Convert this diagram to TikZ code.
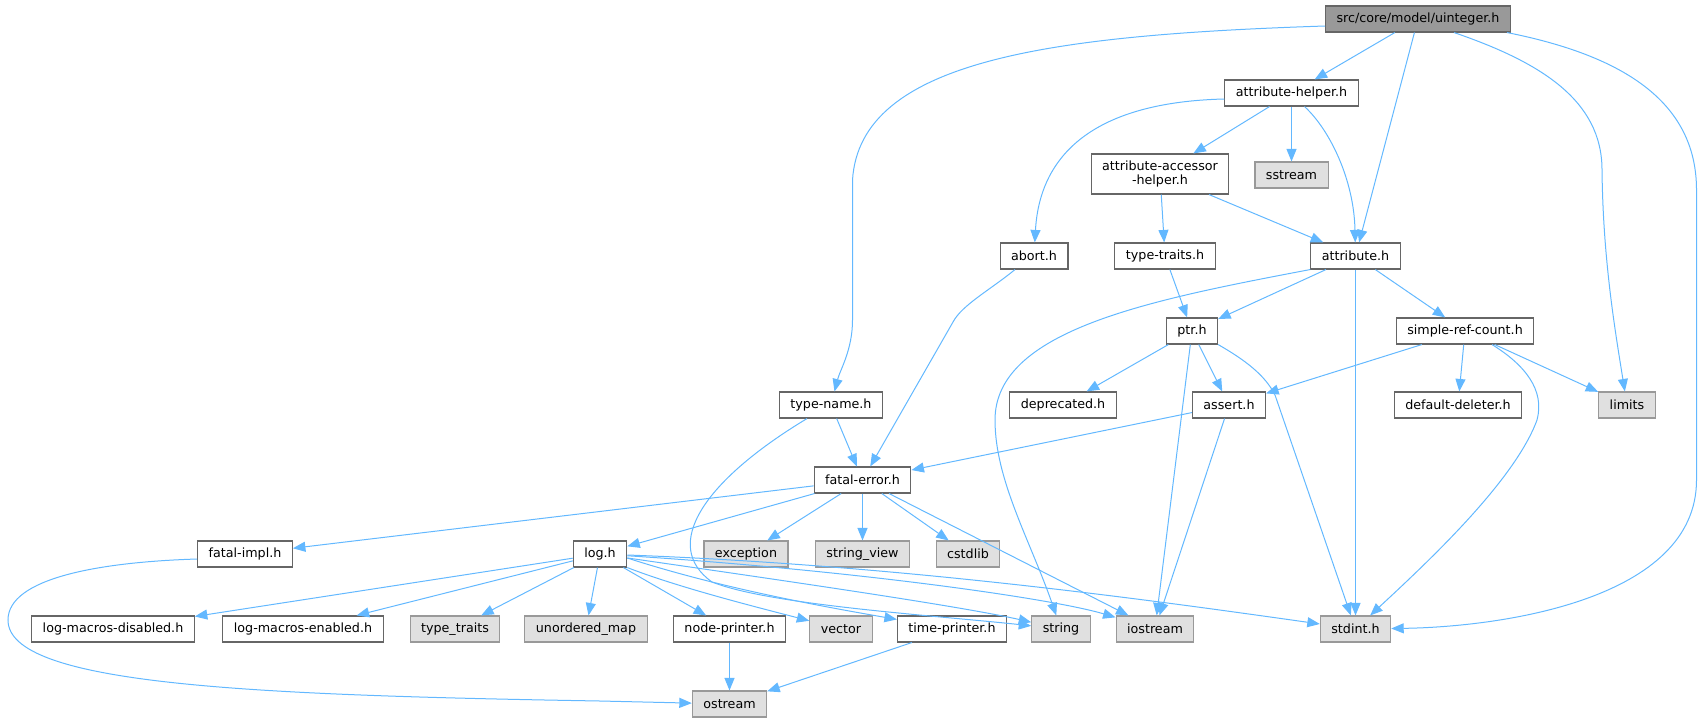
\documentclass[tikz,border=0pt]{standalone}
\usepackage{fontspec}
\setmainfont{DejaVu Sans}
\usetikzlibrary{arrows.meta}
\definecolor{edgeblue}{HTML}{63B8FF}
\definecolor{boxline}{HTML}{666666}
\definecolor{sysline}{HTML}{999999}
\definecolor{sysfill}{HTML}{E0E0E0}
\definecolor{rootfill}{HTML}{999999}
\begin{document}
\begin{tikzpicture}[x=1pt, y=-1pt,
		hdr/.style={draw=boxline, fill=white, line width=1.1pt, inner xsep=11pt, inner ysep=2pt, minimum height=26pt, font=\fontsize{12.7}{14.3}\selectfont},
		sys/.style={hdr, draw=sysline, fill=sysfill},
		rootbox/.style={hdr, fill=rootfill},
		inc/.style={draw=edgeblue, line width=1pt, -{Triangle[length=12.5pt, width=10pt]}}]
	\useasboundingbox (0,0) rectangle (1699,723);

	\node [rootbox] (uint) at (1418,19) {src/core/model/uinteger.h};
	\node [hdr] (ahelp) at (1291.5,93) {attribute-helper.h};
	\node [hdr, align=center, minimum height=40pt] (acc) at (1160,174) {attribute-accessor\\-helper.h};
	\node [sys] (sstream) at (1291.5,175) {sstream};
	\node [hdr] (abort) at (1034,256) {abort.h};
	\node [hdr] (ttraits) at (1165,256) {type-traits.h};
	\node [hdr] (attr) at (1355.5,256) {attribute.h};
	\node [hdr] (ptr) at (1192,331) {ptr.h};
	\node [hdr] (srefc) at (1465,331) {simple-ref-count.h};
	\node [hdr] (tname) at (831,405) {type-name.h};
	\node [hdr] (depr) at (1063,405) {deprecated.h};
	\node [hdr] (assert) at (1229,405) {assert.h};
	\node [hdr] (ddel) at (1458,405) {default-deleter.h};
	\node [sys] (limits) at (1627,405) {limits};
	\node [hdr] (ferr) at (862.5,480) {fatal-error.h};
	\node [hdr] (fimpl) at (245,554) {fatal-impl.h};
	\node [hdr] (log) at (600,554) {log.h};
	\node [sys] (except) at (746,554) {exception};
	\node [sys] (strview) at (862.5,554) {string\_view};
	\node [sys] (cstdlib) at (968,554) {cstdlib};
	\node [hdr] (lmdis) at (113,629) {log-macros-disabled.h};
	\node [hdr] (lmen) at (303,629) {log-macros-enabled.h};
	\node [sys] (ttr) at (455,629) {type\_traits};
	\node [sys] (umap) at (586,629) {unordered\_map};
	\node [hdr] (nprint) at (729.5,629) {node-printer.h};
	\node [sys] (vector) at (841,629) {vector};
	\node [hdr] (tprint) at (952,629) {time-printer.h};
	\node [sys] (string) at (1061,629) {string};
	\node [sys] (iostr) at (1155,629) {iostream};
	\node [sys] (stdint) at (1355.5,629) {stdint.h};
	\node [sys] (ostr) at (729.5,704) {ostream};

	\draw [inc] ([yshift=-7pt]uint.west) .. controls (1050,35) and (860,60) .. (852.5,180) -- (852.5,320) .. controls (852.5,350) and (840,370) .. (tname);
	\draw [inc] (uint) -- (ahelp);
	\draw [inc] (uint) -- (attr);
	\draw [inc] ([xshift=36pt]uint.south) .. controls (1540,62) and (1602,100) .. (1602,170) .. controls (1603,260) and (1615,330) .. (limits);
	\draw [inc] ([xshift=-4pt]uint.south east) .. controls (1620,55) and (1696.5,100) .. (1696.5,190) -- (1696.5,480) .. controls (1696.5,600) and (1500,627) .. (stdint);

	\draw [inc] ([yshift=-6pt]ahelp.west) .. controls (1100,102) and (1040,150) .. (abort);
	\draw [inc] (ahelp) -- (acc);
	\draw [inc] (ahelp) -- (sstream);
	\draw [inc] ([xshift=13pt]ahelp.south) .. controls (1330,130) and (1354,180) .. (attr);

	\draw [inc] (acc) -- (ttraits);
	\draw [inc] (acc) -- (attr);
	\draw [inc] ([xshift=-19pt]abort.south) .. controls (990,290) and (962,305) .. (953,322) -- (ferr);
	\draw [inc] (ttraits) -- (ptr);

	\draw [inc] (attr.south west) .. controls (1150,300) and (995,330) .. (995,420) .. controls (995,480) and (1030,540) .. (string);
	\draw [inc] (attr) -- (ptr);
	\draw [inc] (attr) -- (stdint);
	\draw [inc] (attr) -- (srefc);

	\draw [inc] (ptr) -- (depr);
	\draw [inc] (ptr) -- (assert);
	\draw [inc] (ptr) -- (iostr);
	\draw [inc] (ptr.south east) .. controls (1245,360) and (1265,375) .. (1275,395) -- (stdint);

	\draw [inc] (srefc) -- (assert);
	\draw [inc] (srefc) -- (ddel);
	\draw [inc] (srefc) -- (limits);
	\draw [inc] ([xshift=27pt]srefc.south) .. controls (1525,365) and (1545,390) .. (1537,420) .. controls (1515,480) and (1430,560) .. (stdint);

	\draw [inc] (tname) -- (ferr);
	\draw [inc] ([xshift=-24pt]tname.south) .. controls (705,480) and (660,545) .. (712,582) .. controls (770,605) and (930,615) .. (string);
	\draw [inc] (assert) -- (ferr);
	\draw [inc] (assert) -- (iostr);

	\draw [inc] (ferr) -- (fimpl);
	\draw [inc] (ferr) -- (log);
	\draw [inc] (ferr) -- (except);
	\draw [inc] (ferr) -- (strview);
	\draw [inc] (ferr) -- (cstdlib);
	\draw [inc] (ferr) -- (iostr);

	\draw [inc] ([yshift=-5pt]fimpl.west) .. controls (100,562) and (8,578) .. (8,620) .. controls (8,685) and (250,695) .. (600,701) -- (ostr);

	\draw [inc] (log) -- (lmdis);
	\draw [inc] (log) -- (lmen);
	\draw [inc] (log) -- (ttr);
	\draw [inc] (log) -- (umap);
	\draw [inc] (log) -- (nprint);
	\draw [inc] (log.south east) .. controls (680,588) and (760,608) .. (vector);
	\draw [inc] ([yshift=-4pt]log.east) .. controls (720,588) and (820,606) .. (tprint);
	\draw [inc] (log) .. controls (780,580) and (960,606) .. (string);
	\draw [inc] (log) .. controls (850,570) and (1050,598) .. (iostr);
	\draw [inc] (log) .. controls (900,565) and (1150,600) .. (stdint);

	\draw [inc] (nprint) -- (ostr);
	\draw [inc] (tprint) -- (ostr);
\end{tikzpicture}
\end{document}
